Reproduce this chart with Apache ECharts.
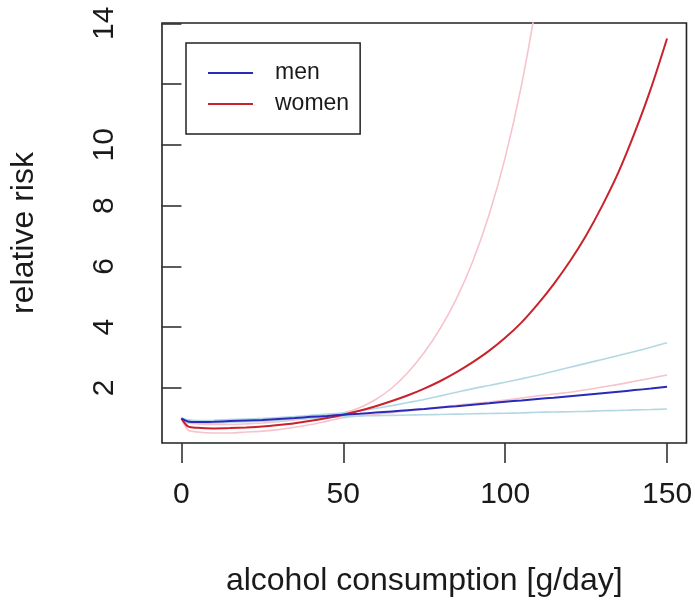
<!DOCTYPE html>
<html>
<head>
<meta charset="utf-8">
<script src="https://cdn.jsdelivr.net/npm/echarts@6/dist/echarts.min.js"></script>
<style>
html,body{margin:0;padding:0;background:#fff;}
#chart{width:695px;height:607px;}
</style>
</head>
<body>
<div id="chart"></div>
<script>
// alcohol consumption [g/day]
const xs = [0, 2, 5, 10, 15, 20, 25, 30, 35, 40, 45, 50, 55, 60, 65, 70, 75, 80, 85, 90, 95, 100, 105, 110, 115, 120, 125, 130, 135, 140, 145, 150];
// relative risk, men
const men      = [1.00, 0.90, 0.88, 0.89, 0.91, 0.93, 0.95, 0.98, 1.01, 1.05, 1.08, 1.12, 1.15, 1.19, 1.23, 1.27, 1.31, 1.36, 1.40, 1.45, 1.50, 1.55, 1.59, 1.64, 1.68, 1.73, 1.78, 1.83, 1.88, 1.93, 1.98, 2.04];
const menLow   = [1.00, 0.86, 0.84, 0.85, 0.87, 0.89, 0.91, 0.94, 0.97, 1.00, 1.03, 1.06, 1.08, 1.09, 1.10, 1.11, 1.12, 1.13, 1.14, 1.15, 1.16, 1.17, 1.18, 1.20, 1.21, 1.22, 1.23, 1.25, 1.26, 1.28, 1.29, 1.31];
const menHigh  = [1.00, 0.95, 0.93, 0.94, 0.96, 0.98, 1.00, 1.03, 1.06, 1.10, 1.14, 1.18, 1.25, 1.33, 1.42, 1.52, 1.62, 1.74, 1.86, 1.98, 2.08, 2.19, 2.30, 2.42, 2.55, 2.68, 2.81, 2.94, 3.07, 3.20, 3.34, 3.49];
// relative risk, women
const women     = [1.00, 0.74, 0.69, 0.67, 0.68, 0.70, 0.73, 0.78, 0.84, 0.92, 1.01, 1.12, 1.25, 1.40, 1.57, 1.76, 1.98, 2.23, 2.52, 2.85, 3.22, 3.65, 4.15, 4.75, 5.42, 6.17, 7.02, 8.00, 9.10, 10.40, 11.85, 13.50];
const womenLow  = [1.00, 0.62, 0.55, 0.52, 0.52, 0.55, 0.58, 0.63, 0.71, 0.80, 0.91, 1.02, 1.08, 1.13, 1.19, 1.25, 1.31, 1.37, 1.43, 1.49, 1.54, 1.60, 1.67, 1.74, 1.80, 1.86, 1.94, 2.03, 2.12, 2.22, 2.32, 2.43];
const womenHigh = [1.00, 0.86, 0.82, 0.80, 0.80, 0.82, 0.85, 0.89, 0.95, 1.01, 1.08, 1.18, 1.35, 1.62, 2.00, 2.52, 3.17, 3.97, 4.95, 6.17, 7.69, 9.58, 11.94, 14.88];
// axis ticks
const xTicks = [0, 50, 100, 150];
const yTicks = [2, 4, 6, 8, 10, 12, 14];
const yTickLabels = [2, 4, 6, 8, 10, 14];

const pairs = (arr) => arr.map((v, i) => [xs[i], v]);
const FONT = '"Liberation Sans", Arial, sans-serif';
const INK = '#1a1a1a';

const chart = echarts.init(document.getElementById('chart'), null, {renderer: 'canvas'});
chart.setOption({
  backgroundColor: '#ffffff',
  animation: false,
  textStyle: {fontFamily: FONT},
  grid: {
    left: 160, top: 23, right: 8, bottom: 164,
    show: true, borderColor: '#222', borderWidth: 1.6, backgroundColor: 'transparent'
  },
  legend: {
    data: ['men', 'women'],
    orient: 'vertical',
    left: 186, top: 43,
    padding: [18, 11, 18, 22],
    borderColor: '#222', borderWidth: 1.5,
    icon: 'rect',
    itemWidth: 45, itemHeight: 2, itemGap: 7,
    textStyle: {fontSize: 23, lineHeight: 24, color: INK, fontFamily: FONT, padding: [0, 0, 0, 17]}
  },
  xAxis: {
    type: 'value', min: -6, max: 156,
    splitLine: {show: false},
    axisLine: {show: false},
    axisTick: {show: true, inside: false, length: 20, customValues: xTicks, lineStyle: {color: '#333', width: 1.6}},
    axisLabel: {customValues: xTicks, fontSize: 30, color: INK, margin: 37, fontFamily: FONT},
    name: 'alcohol consumption [g/day]',
    nameLocation: 'middle', nameGap: 122,
    nameTextStyle: {fontSize: 32, color: INK, fontFamily: FONT}
  },
  yAxis: {
    type: 'value', min: 0.19, max: 14.01,
    splitLine: {show: false},
    axisLine: {show: false},
    axisTick: {show: true, inside: false, length: 20, customValues: yTicks, lineStyle: {color: '#333', width: 1.6}},
    axisLabel: {customValues: yTickLabels, rotate: 90, fontSize: 30, color: INK, margin: 42, fontFamily: FONT},
    name: 'relative risk',
    nameLocation: 'middle', nameGap: 122, nameRotate: 90,
    nameTextStyle: {fontSize: 32, color: INK, fontFamily: FONT}
  },
  series: [
    {name: 'women CI upper', type: 'line', data: pairs(womenHigh), symbol: 'none', smooth: 0.3, lineStyle: {color: '#f6c3cc', width: 1.6}},
    {name: 'women CI lower', type: 'line', data: pairs(womenLow), symbol: 'none', smooth: 0.3, lineStyle: {color: '#f6c3cc', width: 1.6}},
    {name: 'men CI upper', type: 'line', data: pairs(menHigh), symbol: 'none', smooth: 0.3, lineStyle: {color: '#b3d8e3', width: 1.6}},
    {name: 'men CI lower', type: 'line', data: pairs(menLow), symbol: 'none', smooth: 0.3, lineStyle: {color: '#b3d8e3', width: 1.6}},
    {name: 'women', type: 'line', data: pairs(women), symbol: 'none', smooth: 0.3, color: '#c8232c', lineStyle: {color: '#c8232c', width: 2}},
    {name: 'men', type: 'line', data: pairs(men), symbol: 'none', smooth: 0.3, color: '#2a2ab8', lineStyle: {color: '#2a2ab8', width: 2}}
  ]
});
</script>
</body>
</html>
